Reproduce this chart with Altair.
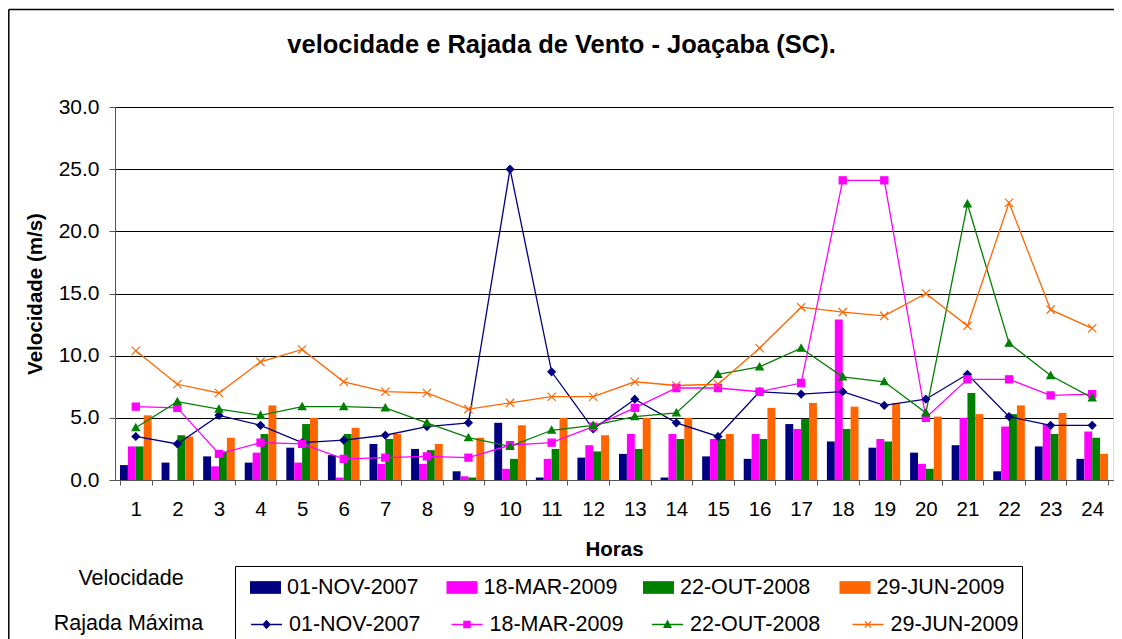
import altair as alt
import pandas as pd

horas = list(range(1, 25))
series = ["01-NOV-2007", "18-MAR-2009", "22-OUT-2008", "29-JUN-2009"]
cores = ["#000080", "#FF00FF", "#008000", "#FF6600"]

# Velocidade (bars)
vel_nov07 = [1.2, 1.4, 1.9, 1.4, 2.6, 2.0, 2.9, 2.5, 0.7, 4.6, 0.2, 1.8, 2.1, 0.2, 1.9, 1.7, 4.5, 3.1, 2.6, 2.2, 2.8, 0.7, 2.7, 1.7]
vel_mar09 = [2.7, 0.0, 1.1, 2.2, 1.4, 0.2, 1.3, 1.3, 0.3, 0.9, 1.7, 2.8, 3.7, 3.7, 3.3, 3.7, 4.1, 12.9, 3.3, 1.3, 5.0, 4.3, 4.5, 3.9]
vel_out08 = [2.7, 3.6, 2.3, 3.7, 4.5, 3.7, 3.3, 2.4, 0.2, 1.7, 2.5, 2.3, 2.5, 3.3, 3.3, 3.3, 4.9, 4.1, 3.1, 0.9, 7.0, 5.3, 3.7, 3.4]
vel_jun09 = [5.2, 3.5, 3.4, 6.0, 5.0, 4.2, 3.7, 2.9, 3.4, 4.4, 5.0, 3.6, 5.0, 5.0, 3.7, 5.8, 6.2, 5.9, 6.2, 5.1, 5.3, 6.0, 5.4, 2.1]

# Rajada Maxima (lines)
raj_nov07 = [3.5, 2.9, 5.2, 4.4, 3.0, 3.2, 3.6, 4.3, 4.6, 25.0, 8.7, 4.1, 6.5, 4.6, 3.5, 7.1, 6.9, 7.1, 6.0, 6.5, 8.5, 5.1, 4.4, 4.4]
raj_mar09 = [5.9, 5.8, 2.1, 3.0, 2.9, 1.7, 1.8, 1.9, 1.8, 2.8, 3.0, 4.3, 5.8, 7.4, 7.4, 7.1, 7.8, 24.1, 24.1, 5.0, 8.1, 8.1, 6.8, 6.9]
raj_out08 = [4.2, 6.3, 5.7, 5.2, 5.9, 5.9, 5.8, 4.6, 3.4, 2.7, 4.0, 4.4, 5.1, 5.4, 8.5, 9.1, 10.6, 8.3, 7.9, 5.4, 22.2, 11.0, 8.4, 6.6]
raj_jun09 = [10.4, 7.7, 7.0, 9.5, 10.5, 7.9, 7.1, 7.0, 5.7, 6.2, 6.7, 6.7, 7.9, 7.6, 7.7, 10.6, 13.9, 13.5, 13.2, 15.0, 12.4, 22.3, 13.7, 12.2]

y_ticks = [0, 5, 10, 15, 20, 25, 30]
titulo = "velocidade e Rajada de Vento - Joaçaba (SC)."

FONT = "Liberation Sans"

vel = [vel_nov07, vel_mar09, vel_out08, vel_jun09]
raj = [raj_nov07, raj_mar09, raj_out08, raj_jun09]
df_v = pd.DataFrame([{"hora": h, "serie": s, "valor": v[i]}
                     for s, v in zip(series, vel) for i, h in enumerate(horas)])
df_r = pd.DataFrame([{"hora": h, "rajada": s, "valor": v[i]}
                     for s, v in zip(series, raj) for i, h in enumerate(horas)])

point_shapes = [
    "M0,-1L1,0L0,1L-1,0Z",
    "M-0.95,-0.95H0.95V0.95H-0.95Z",
    "M0,-1L1,0.8H-1Z",
    "M-1.1,-1.1L1.1,1.1M-1.1,1.1L1.1,-1.1",
]
legend_line_shapes = [
    "M-1,0H1M0,-0.25L0.22,0L0,0.25L-0.22,0Z",
    "M-1,0H1M-0.2,-0.2H0.2V0.2H-0.2Z",
    "M-1,0H1M0,-0.24L0.22,0.18H-0.22Z",
    "M-1,0H1M-0.2,-0.2L0.2,0.2M-0.2,0.2L0.2,-0.2",
]

x_enc = alt.X(
    "hora:O",
    scale=alt.Scale(paddingInner=0.24, paddingOuter=0.12),
    axis=alt.Axis(
        title="Horas", labelAngle=0, tickBand="extent", grid=False,
        tickSize=5, labelPadding=14, labelFont=FONT, labelFontSize=20.5,
        labelColor="black", titleFont=FONT, titleFontSize=20.5,
        titleFontWeight="bold", titleColor="black", titlePadding=20,
        domainColor="#555", tickColor="#555",
    ),
)
y_enc = alt.Y(
    "valor:Q",
    scale=alt.Scale(domain=[0, 30], nice=False),
    axis=alt.Axis(
        values=y_ticks, format=".1f", title="Velocidade (m/s)",
        tickSize=6, labelPadding=10, labelFont=FONT, labelFontSize=21,
        labelColor="black", titleFont=FONT, titleFontSize=20.5,
        titleFontWeight="bold", titleColor="black", titlePadding=13,
        domainColor="#555", tickColor="#555", gridColor="black",
        gridWidth=1, gridOpacity=1,
    ),
)

legend_common = dict(
    title=None, orient="none", direction="horizontal", columns=4,
    gridAlign="all", columnPadding=25.5, symbolSize=961, labelOffset=6,
    labelFont=FONT, labelFontSize=21.5, labelColor="black", padding=0,
    labelLimit=300,
)

bars = alt.Chart(df_v).mark_bar(size=7.9).encode(
    x=x_enc,
    y=y_enc,
    xOffset=alt.XOffset("serie:N", sort=series,
                        scale=alt.Scale(domain=series, paddingInner=0, paddingOuter=0)),
    color=alt.Color(
        "serie:N", sort=series, scale=alt.Scale(domain=series, range=cores),
        legend=alt.Legend(
            legendX=135, legendY=465,
            symbolType="M-1,-0.41H1V0.41H-1Z", symbolStrokeWidth=0,
            **legend_common,
        ),
    ),
)

lines = alt.Chart(df_r).mark_line(strokeWidth=1.3).encode(
    x=x_enc,
    y=y_enc,
    color=alt.Color("rajada:N", sort=series,
                    scale=alt.Scale(domain=series, range=cores), legend=None),
)

points = alt.Chart(df_r).mark_point(filled=True, size=56, strokeWidth=1.2, opacity=1).encode(
    x=x_enc,
    y=y_enc,
    color=alt.Color("rajada:N", scale=alt.Scale(domain=series, range=cores), legend=None),
    stroke=alt.Stroke("rajada:N", scale=alt.Scale(domain=series, range=cores), legend=None),
    shape=alt.Shape("rajada:N", scale=alt.Scale(domain=series, range=point_shapes), legend=None),
)

# empty layer that only supplies the "Rajada Maxima" legend (line + marker symbols)
leg_r_legend = dict(legendX=135, legendY=501, symbolStrokeWidth=1.3, **legend_common)
leg_r = alt.Chart(df_r).transform_filter("false").mark_point(
    filled=True, size=961, strokeWidth=1.3, opacity=1
).encode(
    x=x_enc,
    y=y_enc,
    color=alt.Color("rajada:N", sort=series, scale=alt.Scale(domain=series, range=cores),
                    legend=alt.Legend(**leg_r_legend)),
    stroke=alt.Stroke("rajada:N", sort=series, scale=alt.Scale(domain=series, range=cores),
                      legend=alt.Legend(**leg_r_legend)),
    shape=alt.Shape("rajada:N", sort=series,
                    scale=alt.Scale(domain=series, range=legend_line_shapes),
                    legend=alt.Legend(**leg_r_legend)),
)

one = pd.DataFrame({"k": [0]})

# outer chart frame (left and top edges only are visible in the reference)
frame_left = alt.Chart(one).mark_rule(color="black", strokeWidth=1.5).encode(
    x=alt.value(-106.2), y=alt.value(-97.5), y2=alt.value(540)
)
frame_top = alt.Chart(one).mark_rule(color="black", strokeWidth=1.5).encode(
    x=alt.value(-106.2), x2=alt.value(1000), y=alt.value(-97.5)
)
# legend frame (left, top, right edges)
box_left = alt.Chart(one).mark_rule(color="black", strokeWidth=1).encode(
    x=alt.value(120.5), y=alt.value(459.5), y2=alt.value(540)
)
box_top = alt.Chart(one).mark_rule(color="black", strokeWidth=1).encode(
    x=alt.value(120.5), x2=alt.value(907.5), y=alt.value(459.5)
)
box_right = alt.Chart(one).mark_rule(color="black", strokeWidth=1).encode(
    x=alt.value(907.5), y=alt.value(459.5), y2=alt.value(540)
)
title_txt = alt.Chart(one).mark_text(
    font=FONT, fontSize=25.5, fontWeight="bold", align="center", baseline="middle", color="black"
).encode(x=alt.value(446.5), y=alt.value(-62), text=alt.value(titulo))
lbl_vel = alt.Chart(one).mark_text(
    font=FONT, fontSize=21.5, align="center", baseline="middle", color="black"
).encode(x=alt.value(16), y=alt.value(472), text=alt.value("Velocidade"))
lbl_raj = alt.Chart(one).mark_text(
    font=FONT, fontSize=21.5, align="center", baseline="middle", color="black"
).encode(x=alt.value(13.5), y=alt.value(517), text=alt.value("Rajada Máxima"))

chart = alt.layer(
    bars, lines, points, leg_r, frame_left, frame_top, box_left, box_top, box_right,
    title_txt, lbl_vel, lbl_raj
).resolve_scale(
    color="independent", stroke="independent", shape="independent"
).properties(
    width=998, height=373,
    autosize=alt.AutoSizeParams(type="none"),
    padding={"left": 107, "top": 99, "right": 1, "bottom": 159},
).configure_view(
    stroke="#808080", strokeWidth=1
).configure(background="white")

chart.save("out.html", embed_options={"renderer": "svg", "actions": False})
